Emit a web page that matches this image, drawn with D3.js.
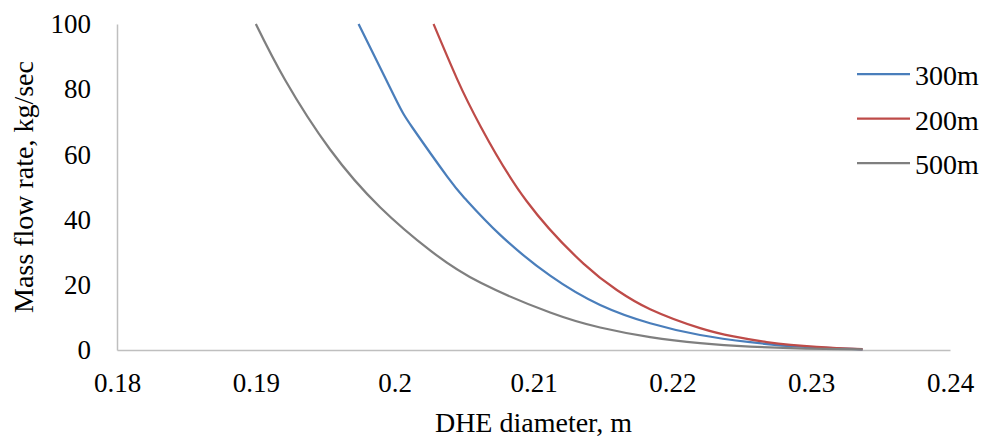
<!DOCTYPE html>
<html>
<head>
<meta charset="utf-8">
<script src="https://cdn.jsdelivr.net/npm/d3@7"></script>
<style>
  body { margin: 0; background: #fff; }
  svg text { font-family: "Liberation Serif", "Times New Roman", "DejaVu Serif", serif; fill: #000; }
</style>
</head>
<body>
<div id="chart"></div>
<script>
// ----- DATA -----
const diam300 = [0.1974, 0.2000, 0.2013, 0.2038, 0.2051, 0.2076, 0.2112, 0.2148, 0.2184, 0.2220, 0.2256, 0.2292, 0.2337];
const flow300 = [100, 77.6, 68.1, 53.1, 46.3, 35.3, 22.8, 13.8, 8.2, 4.6, 2.4, 1.0, 0.2];

const diam200 = [0.2028, 0.2045, 0.2062, 0.2095, 0.2136, 0.2160, 0.2184, 0.2220, 0.2244, 0.2268, 0.2304, 0.2337];
const flow200 = [100, 83.1, 68.5, 45.7, 26.5, 18.4, 12.5, 6.7, 4.15, 2.45, 0.97, 0.3];

const diam500 = [0.1900, 0.1921, 0.19535, 0.19895, 0.2026, 0.2062, 0.2112, 0.2148, 0.2184, 0.2220, 0.2256, 0.2296, 0.2337];
const flow500 = [100, 82.9, 61.5, 43.8, 30.4, 20.6, 11.5, 6.9, 3.95, 2.1, 1.05, 0.45, 0.2];

const seriesNames = ["300m", "200m", "500m"];
const seriesColors = ["#4a7ebb", "#be4b48", "#7f7f7f"];
const xTicks = [0.18, 0.19, 0.2, 0.21, 0.22, 0.23, 0.24];
const yTicks = [0, 20, 40, 60, 80, 100];

const series = [
    {name: seriesNames[0], color: seriesColors[0], pts: diam300.map((d,i)=>[d, flow300[i]])},
    {name: seriesNames[1], color: seriesColors[1], pts: diam200.map((d,i)=>[d, flow200[i]])},
    {name: seriesNames[2], color: seriesColors[2], pts: diam500.map((d,i)=>[d, flow500[i]])}
];

// ----- LAYOUT -----
const width = 985, height = 442;
const margin = {left: 117, right: 35, top: 24, bottom: 92};
const fontFam = "'Liberation Serif', 'Times New Roman', serif";

const svg = d3.select("#chart").append("svg")
    .attr("width", width)
    .attr("height", height);

const x = d3.scaleLinear().domain([0.18, 0.24]).range([margin.left, width - margin.right]);
const y = d3.scaleLinear().domain([0, 100]).range([height - margin.bottom, margin.top]);

// axes
const xAxis = svg.append("g")
    .attr("transform", `translate(0,${y(0)})`)
    .call(d3.axisBottom(x).tickValues(xTicks).tickSize(0).tickPadding(23).tickFormat(d3.format("")));
xAxis.select(".domain").attr("stroke", "#bfbfbf").attr("stroke-width", 1.5);
xAxis.selectAll("text").style("font-family", fontFam).style("font-size", "27px");

const yAxis = svg.append("g")
    .attr("transform", `translate(${x(0.18)},0)`)
    .call(d3.axisLeft(y).tickValues(yTicks).tickSize(0).tickPadding(26));
yAxis.select(".domain").attr("stroke", "#bfbfbf").attr("stroke-width", 1.5);
yAxis.selectAll("text").style("font-family", fontFam).style("font-size", "27px");

// axis titles
svg.append("text")
    .attr("x", (x(0.18) + x(0.24)) / 2)
    .attr("y", 432)
    .attr("text-anchor", "middle")
    .style("font-family", fontFam)
    .style("font-size", "28px")
    .text("DHE diameter, m");

svg.append("text")
    .attr("transform", `translate(33,${(y(0) + y(100)) / 2}) rotate(-90)`)
    .attr("text-anchor", "middle")
    .style("font-family", fontFam)
    .style("font-size", "28px")
    .text("Mass flow rate, kg/sec");

// lines (smoothed like the spreadsheet chart)
const line = d3.line()
    .x(d => x(d[0]))
    .y(d => y(d[1]))
    .curve(d3.curveNatural);

svg.selectAll(".series")
    .data(series)
    .join("path")
    .attr("class", "series")
    .attr("fill", "none")
    .attr("stroke", d => d.color)
    .attr("stroke-width", 2.25)
    .attr("d", d => line(d.pts));

// legend
const legend = svg.append("g").attr("transform", "translate(857,74)");
const item = legend.selectAll("g")
    .data(series)
    .join("g")
    .attr("transform", (d,i) => `translate(0,${i * 44.5})`);
item.append("line")
    .attr("x1", 0).attr("x2", 53)
    .attr("stroke", d => d.color)
    .attr("stroke-width", 2.25);
item.append("text")
    .attr("x", 58)
    .attr("y", 11)
    .style("font-family", fontFam)
    .style("font-size", "28px")
    .text(d => d.name);
</script>
</body>
</html>
